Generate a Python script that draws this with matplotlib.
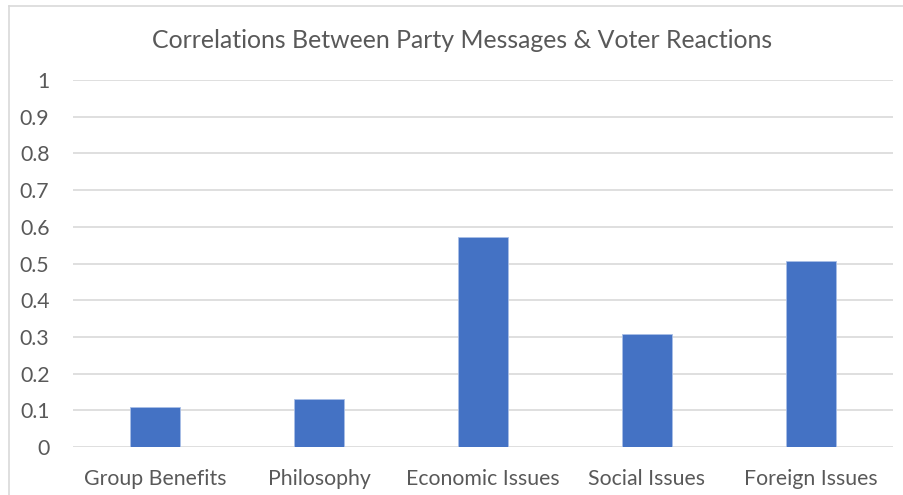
import matplotlib.pyplot as plt
from matplotlib.lines import Line2D

categories = ['Group Benefits', 'Philosophy', 'Economic Issues', 'Social Issues', 'Foreign Issues']
values = [0.11, 0.13, 0.573, 0.307, 0.508]
yticks = [0, 0.1, 0.2, 0.3, 0.4, 0.5, 0.6, 0.7, 0.8, 0.9, 1]

plt.rcParams['font.family'] = ['Lato', 'DejaVu Sans']

fig = plt.figure(figsize=(9.04, 4.95), dpi=100)
ax = fig.add_axes([73 / 904, 1 - 447 / 495, 820 / 904, 367 / 495])

x = list(range(len(categories)))
ax.bar(x, values, width=0.31, color='#4472C4', edgecolor='#A9BEE6', linewidth=0.6, zorder=3)

ax.set_xlim(-0.5, len(categories) - 0.5)
ax.set_ylim(0, 1)
ax.set_yticks(yticks)
ax.set_yticklabels([('%g' % t) for t in yticks])
ax.set_xticks(x)
ax.set_xticklabels(categories)
ax.tick_params(axis='both', length=0, labelsize=15.3, colors='#595959')
ax.tick_params(axis='y', pad=17)
ax.tick_params(axis='x', pad=16)
ax.grid(axis='y', color='#D9D9D9', linewidth=1.2, zorder=0)
for s in ax.spines.values():
    s.set_visible(False)

fig.text(0.511, 1 - 40 / 495, 'Correlations Between Party Messages & Voter Reactions',
         ha='center', va='center', fontsize=17.9, color='#595959')

# chart frame edges
fig.add_artist(Line2D([9 / 904, 1], [1 - 6 / 495, 1 - 6 / 495], color='#D9D9D9', linewidth=1.2))
fig.add_artist(Line2D([9 / 904, 9 / 904], [0, 1 - 6 / 495], color='#D9D9D9', linewidth=1.2))

fig.savefig('out.png', dpi=100, facecolor='white')
